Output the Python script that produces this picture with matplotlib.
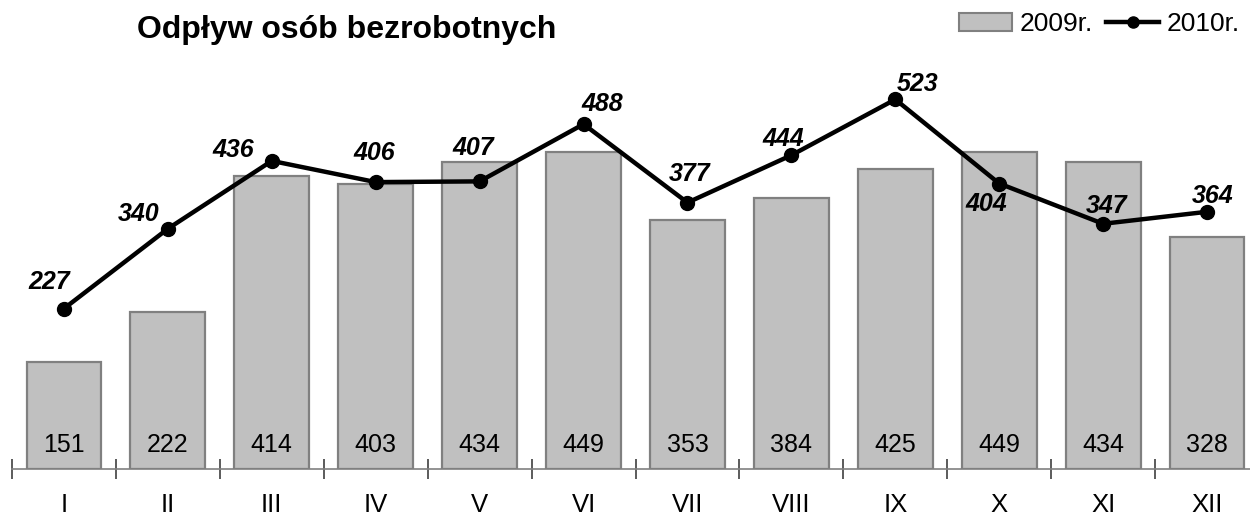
import matplotlib
matplotlib.use("Agg")
import matplotlib.pyplot as plt
from matplotlib.patches import Patch
from matplotlib.lines import Line2D

months = ["I", "II", "III", "IV", "V", "VI", "VII", "VIII", "IX", "X", "XI", "XII"]
v2009 = [151, 222, 414, 403, 434, 449, 353, 384, 425, 449, 434, 328]
v2010 = [227, 340, 436, 406, 407, 488, 377, 444, 523, 404, 347, 364]

# label offsets (pixels) for the 2010 values
lab_off = [(-15, 27), (-29, 15), (-39, 11), (-1, 29), (-6, 33), (19, 20),
           (2, 29), (-8, 16), (22, 15), (-13, -20), (3, 18), (6, 16)]

plt.rcParams['font.family'] = ['Liberation Sans', 'DejaVu Sans']

fig = plt.figure(figsize=(12.5, 5.17), dpi=100)
ax = fig.add_axes([12/1250, 48/517, 1247/1250, (469-45)/517])

x = list(range(len(months)))
ax.bar(x, v2009, width=0.72, color="#C0C0C0", edgecolor="#808080", linewidth=1.6, zorder=2)
ax.plot(x, v2010, color="black", linewidth=3.2, marker="o", markersize=10, zorder=3)

for xi, v in zip(x, v2009):
    ax.annotate(str(v), (xi, 0), xytext=(0, 12), textcoords="offset pixels",
                ha="center", va="bottom", fontsize=18)

for xi, v, (dx, dy) in zip(x, v2010, lab_off):
    ax.annotate(str(v), (xi, v), xytext=(dx, dy), textcoords="offset pixels",
                ha="center", va="center", fontsize=18, fontweight="bold",
                fontstyle="italic")

ax.set_xlim(-0.5, len(months) - 0.5)
ax.set_ylim(0, 600)
for s in ["top", "right", "left"]:
    ax.spines[s].set_visible(False)
ax.spines["bottom"].set_color("#808080")
ax.spines["bottom"].set_linewidth(1.2)
ax.set_yticks([])
ax.set_xticks([i - 0.5 for i in range(len(months) + 1)], minor=False)
ax.set_xticklabels([])
ax.set_xticks(x, minor=True)
ax.set_xticklabels(months, minor=True, fontsize=18.5)
ax.tick_params(axis="x", which="major", direction="inout", length=15, width=1.2, color="#404040")
ax.tick_params(axis="x", which="minor", length=0, pad=17)

fig.text(137/1250, 1 - 30/517, "Odpływ osób bezrobotnych", fontsize=23, fontweight="bold",
         ha="left", va="center")

handles = [Patch(facecolor="#C0C0C0", edgecolor="#808080", linewidth=1.5),
           Line2D([0], [0], color="black", linewidth=3.2, marker="o", markersize=8)]
fig.legend(handles, ["2009r.", "2010r."], loc="center right", bbox_to_anchor=(1240/1250, 1 - 24/517),
           ncol=2, frameon=False, fontsize=19, handlelength=2.0, handletextpad=0.3,
           columnspacing=0.5, borderpad=0, borderaxespad=0)

fig.savefig("out.png", dpi=100)
